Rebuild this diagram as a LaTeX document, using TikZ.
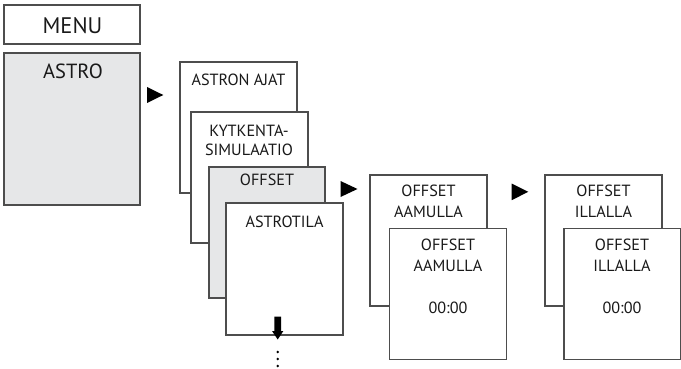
\documentclass[tikz,border=0pt]{standalone}
\usepackage{fontspec}
\setmainfont{PT Sans}
\usetikzlibrary{calc}
\definecolor{edge}{HTML}{4D4D4D}
\definecolor{panel}{HTML}{E6E7E8}
\tikzset{
  box/.style={draw=edge, line width=1.1pt, fill=white, inner sep=0pt, outer sep=0pt, anchor=north west},
  graybox/.style={box, fill=panel},
  txt/.style={inner sep=0pt, anchor=base, font=\fontsize{16.2}{19}\selectfont, text=black!90},
  bigtxt/.style={txt, font=\fontsize{22.5}{26}\selectfont},
  midtxt/.style={txt, font=\fontsize{20.5}{24}\selectfont},
  tri/.style={fill=black},
}
\begin{document}
\begin{tikzpicture}[x=1pt,y=-1pt]
\useasboundingbox (0,0) rectangle (681,369);
% left column
\node[box, minimum width=136, minimum height=39] (menu) at (4,5) {};
\node[bigtxt] (tmenu) at (72.5,33.3) {MENU};
\node[graybox, minimum width=136, minimum height=152] (astro) at (4,53) {};
\node[midtxt] (tastro) at (73,79) {ASTRO};
\fill[tri] (147,87) -- (163.3,95) -- (147,103) -- cycle;
% stacked column
\node[box, minimum width=117, minimum height=131] (b1) at (180,62) {};
\node[txt] (t1) at (238.5,85.3) {ASTRON AJAT};
\node[box, minimum width=117, minimum height=131] (b2) at (191,112) {};
\node[txt] (t2a) at (249,136) {KYTKENTA-};
\node[txt] (t2b) at (249,155.3) {SIMULAATIO};
\node[graybox, minimum width=116, minimum height=131] (b3) at (209,167) {};
\node[txt] (t3) at (267,185.3) {OFFSET};
\node[box, minimum width=117, minimum height=132] (b4) at (226,203) {};
\node[txt] (t4) at (284.5,227) {ASTROTILA};
\fill[tri] (274.3,316.7) rectangle (281,331) (272,331) -- (283.4,331) -- (277.7,339.5) -- cycle;
\foreach \yy in {352,359,366} \fill (277.7,\yy) circle (1.3);
\fill[tri] (340.5,181) -- (357.5,189) -- (340.5,197) -- cycle;
% morning offset
\node[box, minimum width=117, minimum height=131] (m1) at (370,175) {};
\node[txt] (m1a) at (428.5,196.9) {OFFSET};
\node[txt] (m1b) at (428.5,217.5) {AAMULLA};
\node[box, minimum width=117, minimum height=131] (m2) at (389.5,228.3) {};
\node[txt] (m2a) at (448,250.2) {OFFSET};
\node[txt] (m2b) at (448,271.9) {AAMULLA};
\node[txt] (m2c) at (448,313.5) {00:00};
\fill[tri] (511.7,183.5) -- (528.3,191.8) -- (511.7,200.2) -- cycle;
% evening offset
\node[box, minimum width=117, minimum height=131] (e1) at (545,175) {};
\node[txt] (e1a) at (603.5,196.9) {OFFSET};
\node[txt] (e1b) at (603.5,217.5) {ILLALLA};
\node[box, minimum width=116.3, minimum height=131] (e2) at (564,228.3) {};
\node[txt] (e2a) at (622,250.2) {OFFSET};
\node[txt] (e2b) at (622,271.9) {ILLALLA};
\node[txt] (e2c) at (622,313.5) {00:00};
\end{tikzpicture}
\end{document}
